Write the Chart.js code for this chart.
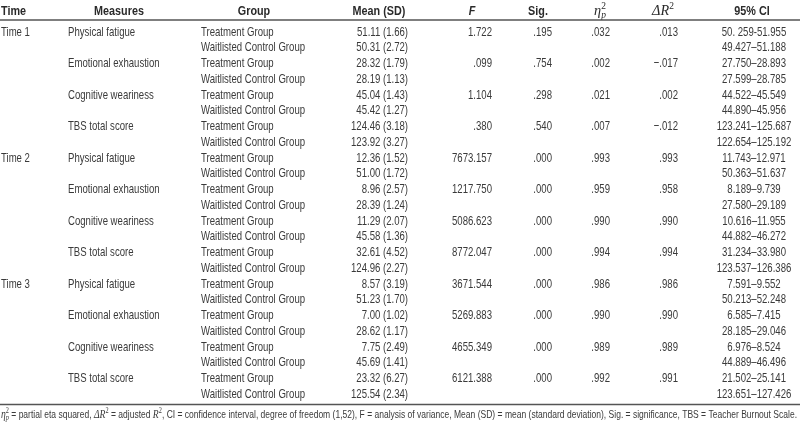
<!DOCTYPE html>
<html lang="en">

<head>
    <meta charset="UTF-8">
    <title>Teacher Burnout Table</title>
    <style>
        body { margin: 0; background: #fff; }
    </style>
</head>

<body>
    <canvas id="table" width="800" height="427"></canvas>
    <script src="https://cdn.jsdelivr.net/npm/chart.js@4.4.1/dist/chart.umd.min.js"></script>
    <script>
        const times = ['Time 1', 'Time 2', 'Time 3']
        const measures = ['Physical fatigue', 'Emotional exhaustion', 'Cognitive weariness', 'TBS total score']
        const groups = ['Treatment Group', 'Waitlisted Control Group']

        // one value per row (time x measure x group)
        const meanValues = [
            51.11, 50.31, 28.32, 28.19, 45.04, 45.42, 124.46, 123.92,
            12.36, 51.00, 8.96, 28.39, 11.29, 45.58, 32.61, 124.96,
            8.57, 51.23, 7.00, 28.62, 7.75, 45.69, 23.32, 125.54
        ]
        const sdValues = [
            1.66, 2.72, 1.79, 1.13, 1.43, 1.27, 3.18, 3.27,
            1.52, 1.72, 2.57, 1.24, 2.07, 1.36, 4.52, 2.27,
            3.19, 1.70, 1.02, 1.17, 2.49, 1.41, 6.27, 2.34
        ]
        const ciLabels = [
            '50. 259-51.955', '49.427–51.188', '27.750–28.893', '27.599–28.785', '44.522–45.549', '44.890–45.956', '123.241–125.687', '122.654–125.192',
            '11.743–12.971', '50.363–51.637', '8.189–9.739', '27.580–29.189', '10.616–11.955', '44.882–46.272', '31.234–33.980', '123.537–126.386',
            '7.591–9.552', '50.213–52.248', '6.585–7.415', '28.185–29.046', '6.976–8.524', '44.889–46.496', '21.502–25.141', '123.651–127.426'
        ]

        // one value per time x measure
        const fLabels = ['1.722', '.099', '1.104', '.380', '7673.157', '1217.750', '5086.623', '8772.047', '3671.544', '5269.883', '4655.349', '6121.388']
        const sigLabels = ['.195', '.754', '.298', '.540', '.000', '.000', '.000', '.000', '.000', '.000', '.000', '.000']
        const etaLabels = ['.032', '.002', '.021', '.007', '.993', '.959', '.990', '.994', '.986', '.990', '.989', '.992']
        const dr2Labels = ['.013', '\u2212.017', '.002', '\u2212.012', '.993', '.958', '.990', '.994', '.986', '.990', '.989', '.991']

        const rowLabels = []
        times.forEach(t => measures.forEach(m => groups.forEach(g => rowLabels.push(t + ' | ' + m + ' | ' + g))))

        // column layout (x in px on the 0..800 scale)
        const columns = [
            { x: 1, align: 'left', text: i => i % 8 === 0 ? times[i / 8] : '' },
            { x: 68, align: 'left', text: i => i % 2 === 0 ? measures[(i / 2) % 4] : '' },
            { x: 201, align: 'left', text: i => groups[i % 2] },
            { x: 408, align: 'right', text: i => meanValues[i].toFixed(2) + ' (' + sdValues[i].toFixed(2) + ')' },
            { x: 492, align: 'right', text: i => i % 2 === 0 ? fLabels[i / 2] : '' },
            { x: 552, align: 'right', text: i => i % 2 === 0 ? sigLabels[i / 2] : '' },
            { x: 610, align: 'right', text: i => i % 2 === 0 ? etaLabels[i / 2] : '' },
            { x: 678, align: 'right', text: i => i % 2 === 0 ? dr2Labels[i / 2] : '' },
            { x: 754, align: 'center', text: i => ciLabels[i] }
        ]

        const SANS = '"Liberation Sans", Arial, sans-serif'
        const SERIF = '"Liberation Serif", "Times New Roman", serif'
        const SX = 0.71
        const HX = 0.8
        const TEXT = '#3a3a3a'

        // draw a run of styled pieces, squeezed horizontally
        const pieceWidth = (ctx, p) => {
            ctx.font = p.font
            return ctx.measureText(p.s).width
        }
        const drawRun = (ctx, pieces, x, y, align, sx) => {
            const w = pieces.reduce((a, p) => a + (p.noAdvance ? 0 : pieceWidth(ctx, p)), 0) * sx
            let cx = align === 'left' ? x : align === 'right' ? x - w : x - w / 2
            ctx.save()
            ctx.textAlign = 'left'
            ctx.textBaseline = 'middle'
            pieces.forEach(p => {
                ctx.font = p.font
                const pw = ctx.measureText(p.s).width
                ctx.save()
                ctx.translate(cx, y + (p.dy || 0))
                ctx.scale(sx, 1)
                ctx.fillText(p.s, 0, 0)
                ctx.restore()
                if (!p.noAdvance) cx += pw * sx
            })
            ctx.restore()
        }

        const tablePlugin = {
            id: 'tablePlugin',
            afterDraw(chart) {
                const { ctx, scales: { x, y }, chartArea } = chart
                ctx.save()
                ctx.fillStyle = TEXT

                // header
                const hy = chartArea.top - 13
                const bold = 'bold 13.5px ' + SANS
                ctx.fillStyle = '#2a2a2a'
                drawRun(ctx, [{ s: 'Time', font: bold }], x.getPixelForValue(1), hy, 'left', HX)
                drawRun(ctx, [{ s: 'Measures', font: bold }], x.getPixelForValue(119), hy, 'center', HX)
                drawRun(ctx, [{ s: 'Group', font: bold }], x.getPixelForValue(254), hy, 'center', HX)
                drawRun(ctx, [{ s: 'Mean (SD)', font: bold }], x.getPixelForValue(379), hy, 'center', HX)
                drawRun(ctx, [{ s: 'F', font: 'italic bold 13.5px ' + SANS }], x.getPixelForValue(472), hy, 'center', HX)
                drawRun(ctx, [{ s: 'Sig.', font: bold }], x.getPixelForValue(538), hy, 'center', HX)
                drawRun(ctx, [
                    { s: '\u03b7', font: 'italic 15px ' + SERIF },
                    { s: '2', font: '10px ' + SERIF, dy: -5, noAdvance: true },
                    { s: 'p', font: 'italic 10px ' + SERIF, dy: 4 }
                ], x.getPixelForValue(600), hy, 'center', 0.95)
                drawRun(ctx, [
                    { s: '\u0394R', font: 'italic 15px ' + SERIF },
                    { s: '2', font: '10px ' + SERIF, dy: -5 }
                ], x.getPixelForValue(663), hy, 'center', 0.95)
                drawRun(ctx, [{ s: '95% CI', font: bold }], x.getPixelForValue(752), hy, 'center', HX)

                // body cells
                ctx.fillStyle = TEXT
                const body = '13.5px ' + SANS
                rowLabels.forEach((lab, i) => {
                    const py = y.getPixelForValue(i)
                    columns.forEach(col => {
                        const s = col.text(i)
                        if (s) drawRun(ctx, [{ s, font: body }], x.getPixelForValue(col.x), py, col.align, SX)
                    })
                })

                // rules
                ctx.strokeStyle = '#555'
                ctx.lineWidth = 1.5
                ctx.beginPath()
                ctx.moveTo(chartArea.left, chartArea.top - 4)
                ctx.lineTo(chartArea.right, chartArea.top - 4)
                ctx.moveTo(chartArea.left, chartArea.bottom + 2.5)
                ctx.lineTo(chartArea.right, chartArea.bottom + 2.5)
                ctx.stroke()

                // footnote, fitted to the full width
                const fs = '11.5px ' + SANS
                const fi = 'italic 13px ' + SERIF
                const sup = '8.5px ' + SERIF
                const note = [
                    { s: '\u03b7', font: fi },
                    { s: '2', font: sup, dy: -4, noAdvance: true },
                    { s: 'p', font: 'italic 8.5px ' + SERIF, dy: 3 },
                    { s: ' = partial eta squared, ', font: fs },
                    { s: '\u0394R', font: fi },
                    { s: '2', font: sup, dy: -4 },
                    { s: ' = adjusted ', font: fs },
                    { s: 'R', font: fi },
                    { s: '2', font: sup, dy: -4 },
                    { s: ', CI = confidence interval, degree of freedom (1,52), F = analysis of variance, Mean (SD) = mean (standard deviation), Sig. = significance, TBS = Teacher Burnout Scale.', font: fs }
                ]
                const nw = note.reduce((a, p) => a + (p.noAdvance ? 0 : pieceWidth(ctx, p)), 0)
                drawRun(ctx, note, 1, chartArea.bottom + 13, 'left', 796 / nw)
                ctx.restore()
            }
        }

        const tableChart = new Chart(document.getElementById('table'), {
            type: 'scatter',
            data: { datasets: [] },
            options: {
                responsive: false,
                animation: false,
                devicePixelRatio: 1,
                layout: { padding: { top: 24, bottom: 25, left: 0, right: 0 } },
                plugins: { legend: { display: false }, tooltip: { enabled: false } },
                scales: {
                    x: { type: 'linear', min: 0, max: 800, display: false },
                    y: { type: 'category', labels: rowLabels, offset: true, display: false }
                }
            },
            plugins: [tablePlugin]
        })
    </script>
</body>

</html>
